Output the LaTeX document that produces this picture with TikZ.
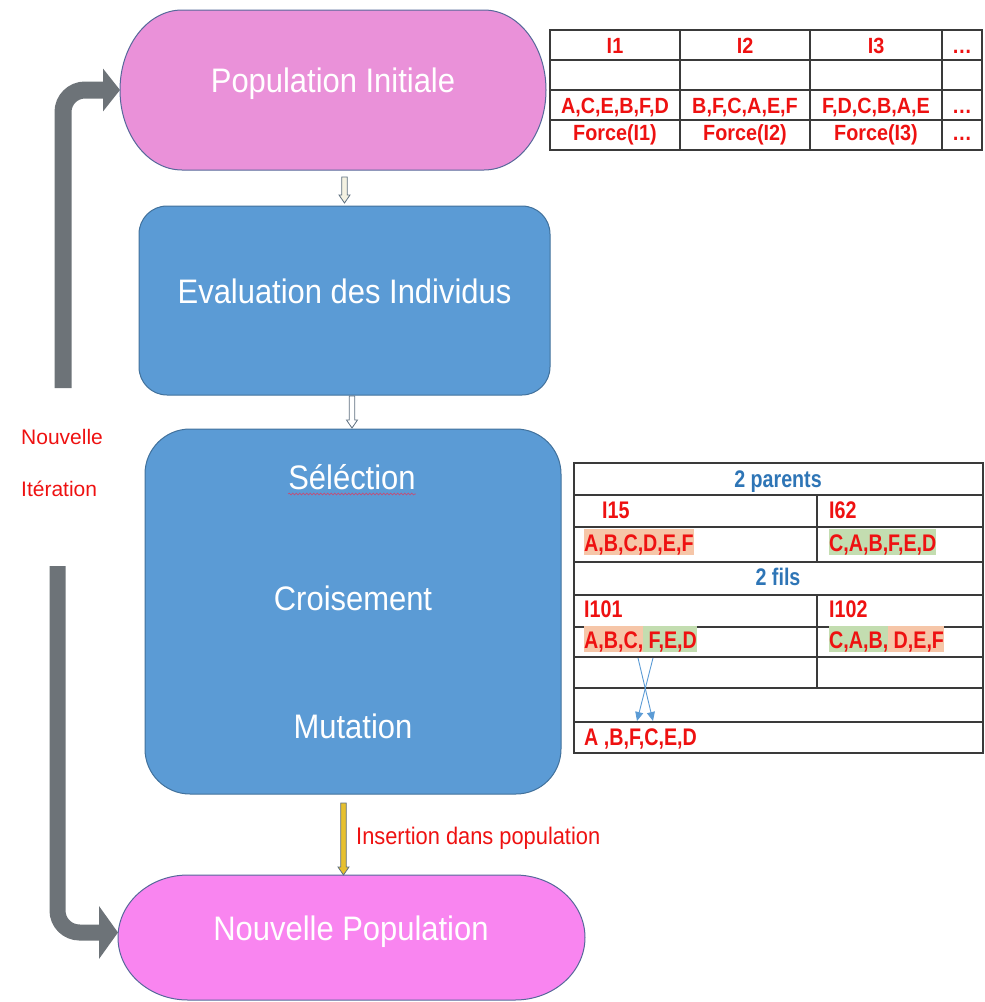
\documentclass[tikz,border=0pt]{standalone}
\usepackage{fontspec}
\setmainfont{Liberation Sans}
\newfontfamily\tabfont{Liberation Sans}[FakeStretch=0.9]
\newfontfamily\tabfontn{Liberation Sans}[FakeStretch=0.82]
\newfontfamily\boxfont{Liberation Sans}[FakeStretch=0.91]
\usetikzlibrary{arrows.meta,calc,backgrounds,decorations.pathmorphing}

\definecolor{pinkA}{HTML}{EA91D9}
\definecolor{pinkB}{HTML}{F985F0}
\definecolor{boxblue}{HTML}{5B9BD5}
\definecolor{edgeblue}{HTML}{41719C}
\definecolor{shapeedge}{HTML}{56689A}
\definecolor{greyarrow}{HTML}{6D7378}
\definecolor{txtred}{HTML}{EE1111}
\definecolor{txtblue}{HTML}{2E75B6}
\definecolor{hlsalmon}{HTML}{F6C6A8}
\definecolor{hlgreen}{HTML}{C3DDB0}
\definecolor{arrowyellow}{HTML}{E6C02E}
\definecolor{arrowpale}{HTML}{F4F2E2}
\definecolor{arrowedge}{HTML}{5F7080}
\definecolor{gridline}{HTML}{3A3A3A}
\definecolor{spellred}{HTML}{C0507A}

% highlighted run of text
\newcommand\hl[2]{{\setlength\fboxsep{0pt}\colorbox{#1}{\rule[-2pt]{0pt}{24pt}#2}}}

% stadium outline with elliptical ends around a frame node
\newcommand\stadium[4]{%
  \draw[shapeline, fill=#2]
    ([xshift=#3]#1.north west) -- ([xshift=-#3]#1.north east)
    arc[start angle=90, end angle=-90, x radius=#3, y radius=#4]
    -- ([xshift=#3]#1.south west)
    arc[start angle=270, end angle=90, x radius=#3, y radius=#4] -- cycle;}

% small outlined block arrow between two named points (vertical)
\newcommand\blockarr[3]{%
  \draw[arrowedge, line width=0.8pt, fill=#1]
    let \p1=(#2), \p2=(#3) in
    (\x1-2.8pt,\y1) -- (\x1-2.8pt,\y2+8pt) -- (\x1-5.5pt,\y2+8pt) -- (\x1,\y2)
    -- (\x1+5.5pt,\y2+8pt) -- (\x1+2.8pt,\y2+8pt) -- (\x1+2.8pt,\y1) -- cycle;}

\begin{document}
\begin{tikzpicture}[x=1pt, y=-1pt,
  frame/.style={draw=none, inner sep=0pt, outer sep=0pt},
  shapeline/.style={draw=shapeedge, line width=1pt},
  bluebox/.style={frame, draw=edgeblue, line width=1pt, fill=boxblue},
  boxtext/.style={text=white, font=\boxfont\fontsize{34}{34}\selectfont, anchor=base, inner sep=0pt},
  redlabel/.style={text=txtred, font=\fontsize{21}{21}\selectfont, anchor=base west, inner sep=0pt},
  greyflow/.style={draw=greyarrow, line width=17pt, rounded corners=22pt},
  grid/.style={draw=gridline, line width=1.2pt},
  tone/.style={text=txtred, font=\tabfont\bfseries\fontsize{22}{22}\selectfont, anchor=base, inner sep=0pt},
  ttwo/.style={text=txtred, font=\tabfontn\bfseries\fontsize{24}{24}\selectfont, anchor=base west, inner sep=0pt},
  tblue/.style={text=txtblue, font=\tabfontn\bfseries\fontsize{24}{24}\selectfont, anchor=base, inner sep=0pt},
  xarrow/.style={draw=boxblue, line width=0.9pt, -{Triangle[length=9pt, width=8pt]}}
]
\useasboundingbox (0,0) rectangle (985,1002);

% ---- process shapes ----
\node[frame, minimum width=426, minimum height=160] (pop) at (333,90) {};
\node[bluebox, minimum width=411, minimum height=189, rounded corners=28pt] (eval) at (344.5,300.5) {};
\node[bluebox, minimum width=416, minimum height=365, rounded corners=45pt] (ops) at (353,611.5) {};
\node[frame, minimum width=467, minimum height=125] (newpop) at (351.5,937.5) {};

\begin{scope}[on background layer]
  \stadium{pop}{pinkA}{62pt}{80pt}
  \stadium{newpop}{pinkB}{70pt}{62.5pt}
\end{scope}

\node[boxtext] (popt) at (333,92) {Population Initiale};
\node[boxtext] (evalt) at (344.5,303) {Evaluation des Individus};
\node[boxtext] (sel) at (352,489) {Séléction};
\node[boxtext] (crois) at (353,610) {Croisement};
\node[boxtext] (mut) at (353,738) {Mutation};
\node[boxtext] (newpopt) at (351,940) {Nouvelle Population};

% spell-check squiggle under the first step
\draw[spellred, line width=0.7pt, decorate,
      decoration={snake, amplitude=0.9pt, segment length=3.5pt}]
  ($(sel.base west)+(0,5)$) -- ($(sel.base east)+(0,5)$);

% ---- flow arrows between the shapes ----
\coordinate (a1s) at ($(eval.north)+(0,-29)$);
\coordinate (a1e) at ($(eval.north)+(0,-3)$);
\blockarr{arrowpale}{a1s}{a1e}
\coordinate (a2s) at ($(eval.south)+(7.5,1)$);
\coordinate (a2e) at ($(ops.north)+(-1,-1)$);
\blockarr{white}{a2s}{a2e}
\coordinate (a3s) at ($(ops.south)+(-9.5,9)$);
\coordinate (a3e) at ($(newpop.north)+(-8,0)$);
\blockarr{arrowyellow}{a3s}{a3e}

\node[redlabel, font=\boxfont\fontsize{24}{24}\selectfont] (ins) at (356,844) {Insertion dans population};

% ---- iteration loop ----
\coordinate (loopA) at (63,388);
\draw[greyflow, -{Triangle[length=17pt, width=42pt]}] (loopA) |- (pop.west);
\coordinate (loopB) at (57.5,566);
\draw[greyflow, line width=16pt, -{Triangle[length=19pt, width=52pt]}]
  (loopB) |- ($(newpop.west)+(0,-5)$);

\node[redlabel] (iterA) at (21,444) {Nouvelle};
\node[redlabel] (iterB) at (21,496) {Itération};

% ---- population table ----
\draw[grid] (550,30) rectangle (982,150);
\foreach \yy in {60,90,120} \draw[grid] (550,\yy) -- (982,\yy);
\foreach \xx in {680,810,942} \draw[grid] (\xx,30) -- (\xx,150);

\node[tone] (c11) at (615,53) {I1};
\node[tone] (c12) at (745,53) {I2};
\node[tone] (c13) at (876,53) {I3};
\node[tone] (c14) at (962,53) {…};
\node[tone] (c31) at (615,113) {A,C,E,B,F,D};
\node[tone] (c32) at (745,113) {B,F,C,A,E,F};
\node[tone] (c33) at (876,113) {F,D,C,B,A,E};
\node[tone] (c34) at (962,113) {…};
\node[tone] (c41) at (615,140) {Force(I1)};
\node[tone] (c42) at (745,140) {Force(I2)};
\node[tone] (c43) at (876,140) {Force(I3)};
\node[tone] (c44) at (962,140) {…};

% ---- crossover table ----
\draw[grid] (574,463) rectangle (983,753);
\foreach \yy in {495,527,562,595,627,657,688,722} \draw[grid] (574,\yy) -- (983,\yy);
\draw[grid] (817,495) -- (817,562);
\draw[grid] (817,595) -- (817,688);

\node[tblue] (parents) at (778,487) {2 parents};
\node[ttwo] (p1) at (602,518) {I15};
\node[ttwo] (p2) at (829,518) {I62};
\node[ttwo] (g1) at (584,551) {\hl{hlsalmon}{A,B,C,D,E,F}};
\node[ttwo] (g2) at (829,551) {\hl{hlgreen}{C,A,B,F,E,D}};
\node[tblue] (fils) at (778,585) {2 fils};
\node[ttwo] (f1) at (584,617) {I101};
\node[ttwo] (f2) at (829,617) {I102};
\node[ttwo] (h1) at (584,648) {\hl{hlsalmon}{A,B,C,}\hl{hlgreen}{\ F,E,D}};
\node[ttwo] (h2) at (829,648) {\hl{hlgreen}{C,A,B,}\hl{hlsalmon}{\ D,E,F}};
\node[ttwo] (m1) at (584,745) {A ,B,F,C,E,D};

% swap of two genes
\coordinate (xa) at (638,658);
\coordinate (xb) at (653,658);
\coordinate (ya) at (637,721);
\coordinate (yb) at (653,721);
\draw[xarrow] (xa) -- (yb);
\draw[xarrow] (xb) -- (ya);
\end{tikzpicture}
\end{document}
